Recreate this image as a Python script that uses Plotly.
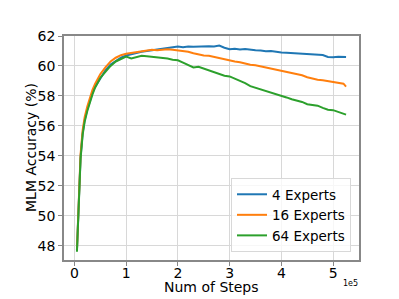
import plotly.graph_objects as go

steps = [5000, 8000, 12000, 16000, 20000, 25000, 30000, 35000, 40000, 50000,
         60000, 70000, 80000, 90000, 100000, 110000, 120000, 130000, 140000, 150000,
         160000, 170000, 180000, 190000, 200000, 210000, 220000, 230000, 240000, 250000,
         260000, 270000, 280000, 290000, 300000, 310000, 320000, 330000, 340000, 350000,
         360000, 370000, 380000, 390000, 400000, 410000, 420000, 430000, 440000, 450000,
         460000, 470000, 480000, 490000, 500000, 510000, 520000, 525000]

acc_4 = [47.7, 50.1, 53.9, 55.5, 56.4, 57.1, 57.7, 58.2, 58.6, 59.2,
         59.7, 60.1, 60.35, 60.55, 60.7, 60.8, 60.9, 60.95, 61.0, 61.05,
         61.1, 61.15, 61.2, 61.25, 61.3, 61.25, 61.3, 61.28, 61.3, 61.27,
         61.32, 61.3, 61.36, 61.22, 61.12, 61.15, 61.1, 61.14, 61.07, 61.05,
         61.03, 60.98, 61.0, 60.93, 60.9, 60.88, 60.86, 60.82, 60.8, 60.75,
         60.76, 60.72, 60.73, 60.6, 60.58, 60.62, 60.6, 60.6]

acc_16 = [47.7, 50.2, 54.1, 55.7, 56.6, 57.3, 57.9, 58.4, 58.8, 59.45,
          59.9, 60.3, 60.55, 60.72, 60.82, 60.88, 60.95, 61.0, 61.02, 61.08,
          61.05, 61.1, 61.12, 61.08, 61.05, 61.0, 60.95, 60.85, 60.75, 60.7,
          60.68, 60.6, 60.55, 60.45, 60.35, 60.3, 60.25, 60.15, 60.08, 60.05,
          59.98, 59.9, 59.82, 59.75, 59.68, 59.62, 59.55, 59.48, 59.38, 59.25,
          59.15, 59.08, 59.05, 58.98, 58.92, 58.88, 58.82, 58.62]

acc_64 = [47.6, 49.9, 53.8, 55.4, 56.3, 57.0, 57.6, 58.1, 58.55, 59.2,
          59.6, 60.0, 60.3, 60.45, 60.62, 60.5, 60.6, 60.68, 60.65, 60.62,
          60.58, 60.52, 60.5, 60.42, 60.38, 60.22, 60.05, 59.9, 59.95, 59.82,
          59.7, 59.6, 59.45, 59.35, 59.3, 59.15, 59.05, 58.85, 58.65, 58.55,
          58.45, 58.35, 58.2, 58.1, 58.05, 57.9, 57.78, 57.7, 57.6, 57.45,
          57.4, 57.35, 57.2, 57.08, 57.05, 56.95, 56.85, 56.75]

series_names = ["4 Experts", "16 Experts", "64 Experts"]
series_colors = ["#1f77b4", "#ff7f0e", "#2ca02c"]

x_tick_vals = [0, 100000, 200000, 300000, 400000, 500000]
x_tick_text = ["0", "1", "2", "3", "4", "5"]
y_tick_vals = [48, 50, 52, 54, 56, 58, 60, 62]

FONT = "DejaVu Sans"
W, H = 399, 299
ML, MR, MT, MB = 64, 40, 36, 39
PW, PH = W - ML - MR, H - MT - MB

fig = go.Figure()
for name, color, ys in zip(series_names, series_colors, [acc_4, acc_16, acc_64]):
    fig.add_trace(go.Scatter(x=steps, y=ys, mode="lines", name=name,
                             line=dict(color=color, width=2)))

fig.update_layout(
    width=W, height=H,
    margin=dict(l=ML, r=MR, t=MT, b=MB, autoexpand=False),
    paper_bgcolor="white", plot_bgcolor="white",
    font=dict(family=FONT, size=14, color="black"),
    showlegend=True,
    legend=dict(x=(351 - ML) / PW, y=(H - MB - 252) / PH, xanchor="right", yanchor="bottom",
                bgcolor="rgba(255,255,255,0.8)", bordercolor="#d8d8d8", borderwidth=1,
                font=dict(family=FONT, size=13.5), itemwidth=30, tracegroupgap=0),
)
fig.update_xaxes(range=[-20000, 550000], tickvals=x_tick_vals, ticktext=x_tick_text,
                 automargin=False,
                 showgrid=True, gridcolor="#d8d8d8", gridwidth=1,
                 showline=True, linecolor="#888888", linewidth=1.5, mirror=True,
                 ticks="outside", ticklen=4, tickcolor="#888888",
                 ticklabelstandoff=-5,
                 zeroline=False, tickfont=dict(size=14))
fig.update_yaxes(range=[47.05, 62], tickvals=y_tick_vals,
                 automargin=False,
                 showgrid=True, gridcolor="#d8d8d8", gridwidth=1,
                 showline=True, linecolor="#888888", linewidth=1.5, mirror=True,
                 ticks="outside", ticklen=4, tickcolor="#888888",
                 zeroline=False, tickfont=dict(size=14))

# axis titles placed precisely in paper coords
fig.add_annotation(text="Num of Steps", xref="paper", yref="paper",
                   x=(211 - ML) / PW, y=-(287 - (H - MB)) / PH,
                   xanchor="center", yanchor="middle", showarrow=False,
                   font=dict(family=FONT, size=14, color="black"))
fig.add_annotation(text="MLM Accuracy (%)", xref="paper", yref="paper",
                   x=(31 - ML) / PW, y=0.5, textangle=-90,
                   xanchor="center", yanchor="middle", showarrow=False,
                   font=dict(family=FONT, size=14, color="black"))
fig.add_annotation(text="1e5", xref="paper", yref="paper",
                   x=(360 - ML) / PW, y=-(283 - (H - MB)) / PH,
                   xanchor="right", yanchor="middle", showarrow=False,
                   font=dict(family=FONT, size=8, color="black"))

fig.write_html("out.html", config={"displayModeBar": False},
               post_script="document.body.style.margin='0';document.body.style.padding='0';")
